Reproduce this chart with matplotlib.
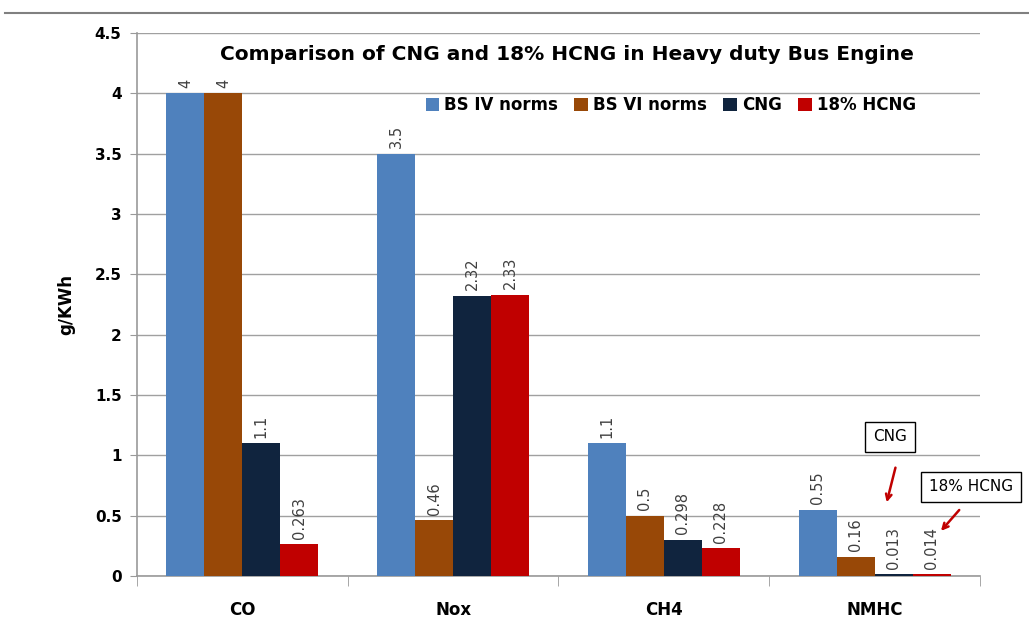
import numpy as np
import matplotlib.pyplot as plt
from matplotlib.lines import Line2D

plt.rcParams['font.family'] = ['Liberation Sans Narrow', 'DejaVu Sans']

# Given
categories = ['CO', 'Nox', 'CH4', 'NMHC']
series = ['BS IV norms', 'BS VI norms', 'CNG', '18% HCNG']
bs4 = [4, 3.5, 1.1, 0.55]
bs6 = [4, 0.46, 0.5, 0.16]
cng = [1.1, 2.32, 0.298, 0.013]
hcng = [0.263, 2.33, 0.228, 0.014]
bs4_lbl = ['4', '3.5', '1.1', '0.55']
bs6_lbl = ['4', '0.46', '0.5', '0.16']
cng_lbl = ['1.1', '2.32', '0.298', '0.013']
hcng_lbl = ['0.263', '2.33', '0.228', '0.014']
colors = ['#4F81BD', '#984807', '#10243E', '#C00000']

# Plotting
fig = plt.figure(figsize=(10.29, 6.17), dpi=100)
ax = fig.add_axes([0.1331, 0.0665, 0.8193, 0.88])

x = np.arange(len(categories))
w = 0.18
all_vals = [bs4, bs6, cng, hcng]
all_lbls = [bs4_lbl, bs6_lbl, cng_lbl, hcng_lbl]
for k in range(4):
    pos = x + (k - 1.5) * w
    ax.bar(pos, all_vals[k], w, color=colors[k], label=series[k], zorder=3)
    for px, v, t in zip(pos, all_vals[k], all_lbls[k]):
        ax.annotate(t, (px, v), xytext=(0, 4), textcoords='offset points',
                    rotation=90, ha='center', va='bottom', fontsize=10.5,
                    color='#404040')

ax.set_xlim(-0.5, 3.5)
ax.set_ylim(0, 4.5)
ax.set_yticks(np.arange(0, 4.51, 0.5))
ax.set_yticklabels(['0', '0.5', '1', '1.5', '2', '2.5', '3', '3.5', '4', '4.5'],
                   fontsize=11, fontweight='bold')
ax.set_xticks(x)
ax.set_xticklabels(categories, fontsize=12, fontweight='bold')
ax.set_xticks(np.arange(-0.5, 3.6, 1), minor=True)
ax.tick_params(axis='x', which='major', length=0, pad=18)
ax.tick_params(axis='x', which='minor', length=7, color='#999999')
ax.tick_params(axis='y', length=5, color='#999999', pad=6)
ax.grid(axis='y', color='#A0A0A0', linewidth=1, zorder=0)
for s in ['top', 'right']:
    ax.spines[s].set_visible(False)
for s in ['left', 'bottom']:
    ax.spines[s].set_color('#999999')
    ax.spines[s].set_linewidth(1.2)

ax.set_ylabel('g/KWh', fontsize=12, fontweight='bold', labelpad=14)
ax.text(0.51, 0.96, 'Comparison of CNG and 18% HCNG in Heavy duty Bus Engine',
        transform=ax.transAxes, ha='center', va='center', fontsize=14.5,
        fontweight='bold')

ax.legend(loc='center', bbox_to_anchor=(0.633, 0.867), ncol=4, frameon=False,
          prop={'weight': 'bold', 'size': 12}, handlelength=0.8,
          handleheight=0.8, handletextpad=0.3, columnspacing=1.0)

# Callouts
box = dict(boxstyle='square,pad=0.5', fc='white', ec='black', lw=1)
ax.annotate('CNG', (3.073, 1.152), ha='center', va='center', fontsize=11,
            bbox=box, annotation_clip=False)
ax.annotate('18% HCNG', (3.457, 0.738), ha='center', va='center', fontsize=11,
            bbox=box, annotation_clip=False)
ax.annotate('', xy=(3.054, 0.588), xytext=(3.102, 0.92),
            arrowprops=dict(arrowstyle='->', color='#C00000', lw=1.8))
ax.annotate('', xy=(3.306, 0.356), xytext=(3.41, 0.564),
            arrowprops=dict(arrowstyle='->', color='#C00000', lw=1.8),
            annotation_clip=False)

fig.add_artist(Line2D([0.005, 1], [1 - 13 / 617] * 2, color='#808080', lw=1.5))

plt.savefig('out.png', dpi=100)
